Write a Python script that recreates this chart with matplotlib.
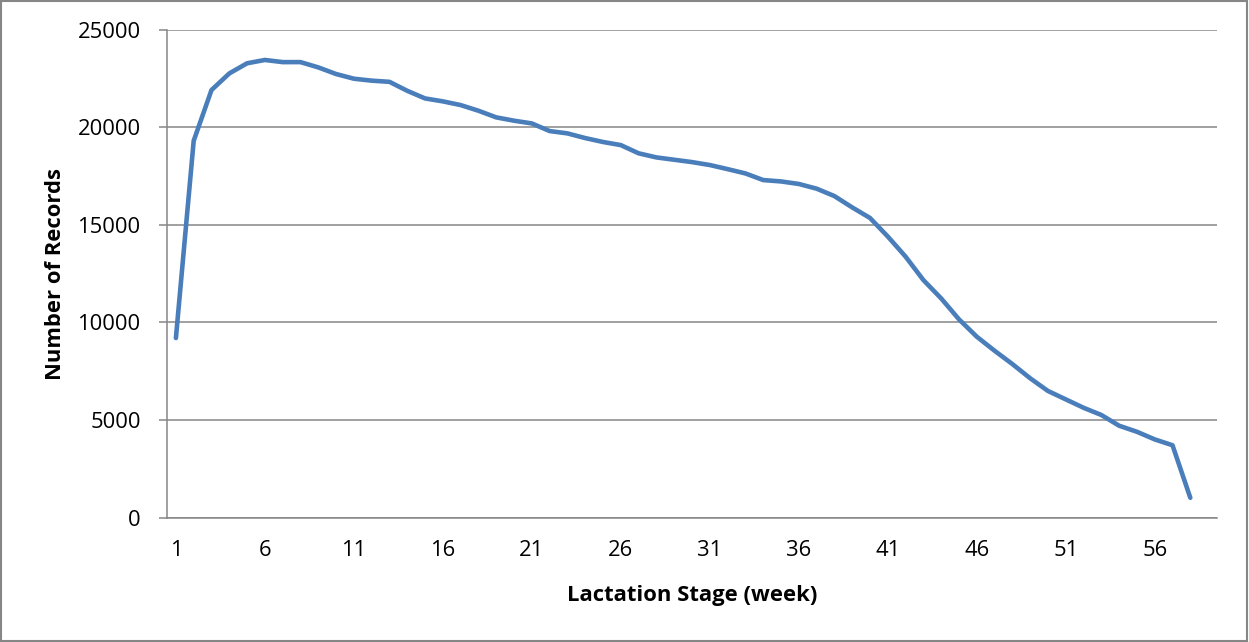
import matplotlib
matplotlib.use('agg')
import matplotlib.pyplot as plt
from matplotlib.patches import Rectangle
import numpy as np

plt.rcParams['font.family'] = ['Open Sans', 'DejaVu Sans']

# weekly record counts
weeks = list(range(1, 59))
records = [9200, 19300, 21900, 22750, 23270, 23440, 23330, 23330, 23060, 22720,
           22480, 22380, 22320, 21860, 21470, 21320, 21130, 20840, 20500, 20330,
           20190, 19800, 19680, 19440, 19240, 19080, 18660, 18450, 18330, 18210,
           18060, 17850, 17630, 17290, 17220, 17090, 16850, 16470, 15890, 15350,
           14400, 13370, 12170, 11230, 10160, 9270, 8550, 7870, 7140, 6490,
           6060, 5630, 5260, 4710, 4400, 4010, 3710, 1020]
x_ticks = list(range(1, 57, 5))
y_ticks = list(range(0, 25001, 5000))

grey = '#868686'

fig = plt.figure(figsize=(12.49, 6.42), dpi=100)
ax = fig.add_axes([167 / 1249, (642 - 517.7) / 642, 1050 / 1249, 488.2 / 642])

ax.plot(weeks, records, color='#4A7EBB', lw=3.3,
        solid_capstyle='round', solid_joinstyle='round', zorder=3)

ax.set_xlim(0.5, 59.5)
ax.set_ylim(0, 25000)
ax.set_xticks(x_ticks)
ax.set_yticks(y_ticks)
ax.yaxis.grid(True, color=grey, lw=1.1)
ax.set_axisbelow(True)

for side in ['top', 'right']:
    ax.spines[side].set_visible(False)
for side in ['left', 'bottom']:
    ax.spines[side].set_color(grey)
    ax.spines[side].set_linewidth(1.1)

ax.tick_params(axis='y', length=6, width=1.1, color=grey, pad=13, labelsize=15.8)
ax.tick_params(axis='x', length=0, pad=16, labelsize=15.8)

ax.set_xlabel('Lactation Stage (week)', fontsize=15.8, fontweight='bold', labelpad=17)
ax.set_ylabel('Number of Records', fontsize=15.8, fontweight='bold', labelpad=8)

# grey frame around the whole chart
fig.patches.append(Rectangle((0.0005, 0.001), 0.998, 0.997, transform=fig.transFigure,
                             fill=False, edgecolor=grey, lw=1.5))

fig.savefig('out.png', dpi=100)
